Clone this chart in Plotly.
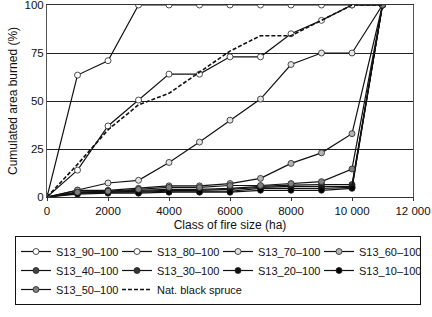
import plotly.graph_objects as go

fire_size = [0, 1000, 2000, 3000, 4000, 5000, 6000, 7000, 8000, 9000, 10000, 11000]

s90 = [0, 63.5, 71, 100, 100, 100, 100, 100, 100, 100, 100, 100]
s80 = [0, 14, 37, 50.5, 64, 64, 73, 73, 85, 92, 100, 100]
s70 = [0, 3.6, 7.3, 8.7, 18, 28.6, 40, 51, 69, 75, 75, 100]
s60 = [0, 3.5, 3.5, 4.5, 5.8, 5.8, 7, 9.7, 17.5, 23, 33, 100]
s50 = [0, 2.5, 3, 4, 5, 5, 6, 6, 7, 8, 14.6, 100]
s40 = [0, 2.5, 3, 3.5, 4, 4, 4.5, 5.5, 6.2, 6.5, 6.5, 100]
s30 = [0, 2, 2.5, 3, 3.5, 3.5, 4, 5, 5.5, 5.5, 5.5, 100]
s20 = [0, 2, 2.5, 2.5, 3, 3, 3, 4.5, 4.5, 4.5, 5, 100]
s10 = [0, 1.5, 2, 2, 2.5, 2.5, 2.5, 3.5, 3.5, 3.5, 4.5, 100]
nat = [0, 17, 35, 48, 54, 65, 76, 84, 84, 92, 100, 100]

series = [
    ("S13_90\u2013100", s90, "#ffffff"),
    ("S13_80\u2013100", s80, "#ffffff"),
    ("S13_70\u2013100", s70, "#e4e4e4"),
    ("S13_60\u2013100", s60, "#b4b4b4"),
    ("S13_40\u2013100", s40, "#444444"),
    ("S13_30\u2013100", s30, "#333333"),
    ("S13_20\u2013100", s20, "#111111"),
    ("S13_10\u2013100", s10, "#000000"),
    ("S13_50\u2013100", s50, "#808080"),
]

x_ticks = [0, 2000, 4000, 6000, 8000, 10000, 12000]
x_tick_labels = ["0", "2000", "4000", "6000", "8000", "10 000", "12 000"]
y_ticks = [0, 25, 50, 75, 100]

fig = go.Figure()
for name, vals, fill in series:
    fig.add_trace(go.Scatter(
        x=fire_size, y=vals, name=name, mode="lines+markers",
        line=dict(color="#111111", width=1.2),
        marker=dict(symbol="circle", size=6, color=fill,
                    line=dict(color="#222222", width=0.8)),
    ))
fig.add_trace(go.Scatter(
    x=fire_size, y=nat, name="Nat. black spruce", mode="lines",
    line=dict(color="#111111", width=1.6, dash="4px,2px"),
))

font = "Liberation Sans, Arial, sans-serif"
plot_w = 432 - 47 - 19
plot_h = 317 - 5 - 120
fig.update_layout(
    width=432, height=317,
    margin=dict(l=47, r=19, t=5, b=120),
    paper_bgcolor="white", plot_bgcolor="white",
    font=dict(family=font, size=11.5, color="#111111"),
    xaxis=dict(
        range=[0, 12000], tickvals=x_ticks, ticktext=x_tick_labels,
        showgrid=False, zeroline=False, showline=True, linecolor="#333333",
        linewidth=1, mirror=True, ticks="outside", ticklen=3, tickcolor="#333333",
        title=dict(text="Class of fire size (ha)", standoff=4, font=dict(size=12)),
        tickfont=dict(size=11.5), automargin=False, ticklabeloverflow="allow",
    ),
    yaxis=dict(
        range=[0, 100], tickvals=y_ticks, showgrid=True, gridcolor="#222222",
        gridwidth=1, zeroline=False, showline=True, linecolor="#555555",
        linewidth=1, mirror=True, ticks="",
        title=dict(text="Cumulated area burned (%)", standoff=4, font=dict(size=12)),
        tickfont=dict(size=11.5), automargin=False, ticklabeloverflow="allow",
    ),
    legend=dict(
        orientation="h", xref="paper", yref="paper",
        x=(15 - 47) / plot_w, y=(197 - 236) / plot_h, xanchor="left", yanchor="top",
        bordercolor="#111111", borderwidth=1, bgcolor="white",
        entrywidth=56, entrywidthmode="pixels", itemwidth=30,
        font=dict(size=11, family=font), tracegroupgap=0,
    ),
    showlegend=True,
)

fig.write_html("out.html", config={"displayModeBar": False},
               post_script="document.body.style.margin='0';document.body.style.padding='0';")
